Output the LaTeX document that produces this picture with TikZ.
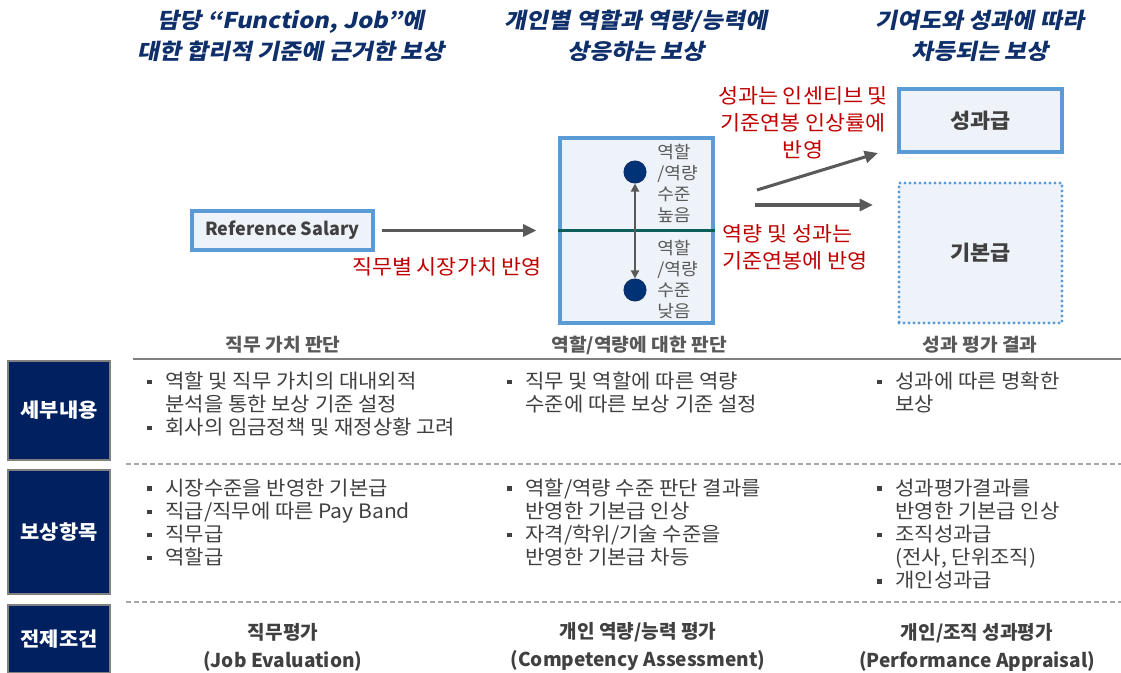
\documentclass[tikz,border=0pt]{standalone}
\usepackage{fontspec}
\setmainfont{Noto Sans CJK KR}
\newfontfamily\kr[FakeStretch=1.06]{Noto Sans CJK KR}
\newfontfamily\krn{Noto Sans CJK KR}
\newfontfamily\krt[FakeSlant=0.2,FakeStretch=1.1]{Noto Sans CJK KR}
\usetikzlibrary{arrows.meta}
\definecolor{bordblue}{HTML}{5B9BD5}
\definecolor{fillblue}{HTML}{EEF3F9}
\definecolor{navy}{HTML}{002060}
\definecolor{titleblue}{HTML}{0F2F6B}
\definecolor{txtgray}{HTML}{404040}
\definecolor{arrgray}{HTML}{595959}
\definecolor{redtxt}{HTML}{C00000}
\definecolor{tealline}{HTML}{0B5E5A}
\definecolor{circfill}{HTML}{003375}
\newcommand\bul{\makebox[13.5pt][l]{\raisebox{3.2pt}{\rule{3.4pt}{3.4pt}}}}
\newcommand\ind{\hspace*{13.5pt}}
\tikzset{
  title/.style={font=\krt\bfseries\fontsize{16.3}{23.2}\selectfont, text=titleblue, align=center, inner sep=0},
  bluebox/.style={draw=bordblue, line width=2.4pt, fill=fillblue, inner sep=0},
  boxtext/.style={font=\krn\bfseries\fontsize{13.5}{16}\selectfont, text=txtgray, inner sep=0},
  paytext/.style={font=\kr\bfseries\fontsize{15.5}{18}\selectfont, text=txtgray, inner sep=0},
  redlabel/.style={font=\kr\fontsize{15.4}{20.25}\selectfont, text=redtxt, inner sep=0},
  sidetext/.style={font=\kr\fontsize{12.8}{15.75}\selectfont, text=arrgray, align=left, inner sep=0},
  bigarrow/.style={draw=arrgray, line width=2.3pt, -{Triangle[length=10pt,width=9pt]}},
  header/.style={font=\kr\bfseries\fontsize{13.6}{16}\selectfont, text=arrgray, inner sep=0},
  bullets/.style={font=\kr\fontsize{14.9}{17.4}\selectfont, text=txtgray, align=left, inner sep=0, anchor=west},
  rowlabel/.style={fill=navy, draw=gray, line width=0.8pt, font=\kr\bfseries\fontsize{14.8}{16}\selectfont, text=white, inner sep=0},
  bottomtext/.style={font=\krn\bfseries\fontsize{14.3}{21}\selectfont, text=txtgray, align=center, inner sep=0},
  sepdash/.style={draw=gray!70, line width=0.9pt, dash pattern=on 3.5pt off 2.5pt},
}
\begin{document}
\begin{tikzpicture}[x=0.75pt,y=-0.75pt]
\useasboundingbox (0,0) rectangle (1121,673);
% titles
\node[title] (t1) at (291,36) {담당 “Function, Job”에\\대한 합리적 기준에 근거한 보상};
\node[title] (t2) at (636,36) {개인별 역할과 역량/능력에\\상응하는 보상};
\node[title] (t3) at (980,36) {기여도와 성과에 따라\\차등되는 보상};
% reference salary
\node[bluebox, minimum width=135.75pt, minimum height=29.25pt] (ref) at (282.5,230.5) {};
\node[boxtext] (reftext) at (ref.center) {Reference Salary};
% middle box
\node[bluebox, minimum width=114.75pt, minimum height=138.75pt] (mid) at (636.5,230.5) {};
\draw[tealline, line width=2.4pt] (mid.west) -- (mid.east);
\node[circle, fill=circfill, draw=titleblue, line width=0.8pt, minimum size=16.5pt, inner sep=0] (c1) at (635,172) {};
\node[circle, fill=circfill, draw=titleblue, line width=0.8pt, minimum size=16.5pt, inner sep=0] (c2) at (635,290) {};
\draw[draw=arrgray, line width=1.5pt, {Triangle[length=6pt,width=6pt]}-{Triangle[length=6pt,width=6pt]}] (c1.south) -- (c2.north);
\node[sidetext, anchor=west] (hi) at (657,183.5) {역할\\/역량\\수준\\높음};
\node[sidetext, anchor=west] (lo) at (657,279) {역할\\/역량\\수준\\낮음};
% arrow ref -> mid
\draw[bigarrow, shorten <=5.25pt, shorten >=16.5pt] (ref.east) -- (mid.west);
\node[redlabel] (r1) at (447,267) {직무별 시장가치 반영};
% right boxes
\node[bluebox, minimum width=122.25pt, minimum height=47.25pt] (perf) at (980.5,120.5) {};
\node[paytext] (perftext) at (perf.center) {성과급};
\node[draw=bordblue, line width=2.6pt, fill=fillblue, dash pattern=on 0pt off 3.75pt, line cap=round, minimum width=122.25pt, minimum height=105pt, inner sep=0] (base) at (980.5,253) {};
\node[paytext] (basetext) at (base.center) {기본급};
\coordinate (a1s) at (757,190);
\coordinate (a1e) at (878,153);
\coordinate (a2s) at (755,205);
\coordinate (a2e) at (873,205);
\draw[bigarrow] (a1s) -- (a1e);
\draw[bigarrow] (a2s) -- (a2e);
\node[redlabel, align=center] (r2) at (803,123) {성과는 인센티브 및\\기준연봉 인상률에\\반영};
\node[redlabel, align=left, anchor=west] (r3) at (722,247.5) {역량 및 성과는\\기준연봉에 반영};
% headers
\node[header] (h1) at (283,345) {직무 가치 판단};
\node[header] (h2) at (639,345) {역할/역량에 대한 판단};
\node[header] (h3) at (980,345) {성과 평가 결과};
\coordinate (hl1) at (133,359);
\coordinate (hl2) at (1121,359);
\draw[draw=gray, line width=1.5pt] (hl1) -- (hl2);
\coordinate (d1a) at (126,464);
\coordinate (d1b) at (1121,464);
\coordinate (d2a) at (126,602);
\coordinate (d2b) at (1121,602);
\draw[sepdash] (d1a) -- (d1b);
\draw[sepdash] (d2a) -- (d2b);
% row labels
\node[rowlabel, minimum width=76.5pt, minimum height=74.25pt] (L1) at (59,410.5) {세부내용};
\node[rowlabel, minimum width=76.5pt, minimum height=93pt] (L2) at (59,532) {보상항목};
\node[rowlabel, minimum width=76.5pt, minimum height=51pt] (L3) at (59,639) {전제조건};
% bullet blocks row 1
\node[bullets] (b11) at (147,404) {\bul 역할 및 직무 가치의 대내외적\\\ind 분석을 통한 보상 기준 설정\\\bul 회사의 임금정책 및 재정상황 고려};
\node[bullets] (b12) at (507,392.5) {\bul 직무 및 역할에 따른 역량\\\ind 수준에 따른 보상 기준 설정};
\node[bullets] (b13) at (877,392.5) {\bul 성과에 따른 명확한\\\ind 보상};
% bullet blocks row 2
\node[bullets] (b21) at (147,522.5) {\bul 시장수준을 반영한 기본급\\\bul 직급/직무에 따른 Pay Band\\\bul 직무급\\\bul 역할급};
\node[bullets] (b22) at (507,522.5) {\bul 역할/역량 수준 판단 결과를\\\ind 반영한 기본급 인상\\\bul 자격/학위/기술 수준을\\\ind 반영한 기본급 차등};
\node[bullets] (b23) at (877,534) {\bul 성과평가결과를\\\ind 반영한 기본급 인상\\\bul 조직성과급\\\ind (전사, 단위조직)\\\bul 개인성과급};
% bottom
\node[bottomtext] (p1) at (283,647) {직무평가\\(Job Evaluation)};
\node[bottomtext] (p2) at (638,647) {개인 역량/능력 평가\\(Competency Assessment)};
\node[bottomtext] (p3) at (977,647) {개인/조직 성과평가\\(Performance Appraisal)};
\end{tikzpicture}
\end{document}
